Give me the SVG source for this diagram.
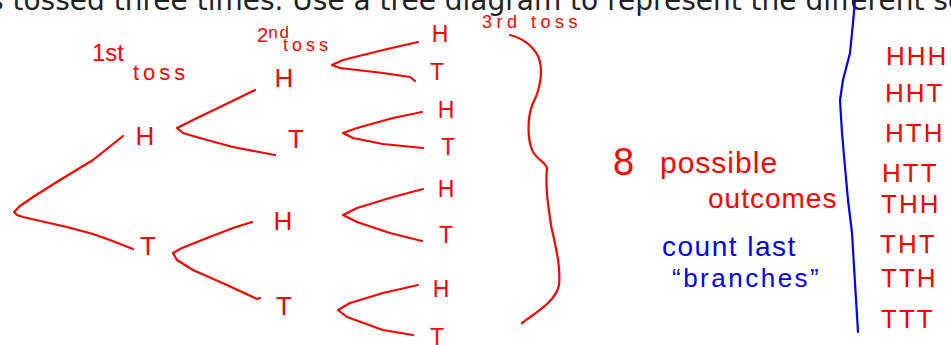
<svg xmlns="http://www.w3.org/2000/svg" width="951" height="345" viewBox="0 0 951 345">
<style>
.hdr{font-family:"DejaVu Sans",Verdana,sans-serif;font-size:28px;fill:#222}
.r{font-family:"Liberation Sans",Arial,sans-serif;fill:#f00}
.b{font-family:"Liberation Sans",Arial,sans-serif;fill:#00f}
.n1{font-size:26px;text-anchor:middle}
.n3{font-size:23px;text-anchor:middle}
.row{font-family:"Liberation Sans",Arial,sans-serif;fill:#f00;font-size:26px;letter-spacing:2px}
.ln{fill:none;stroke:#f00;stroke-width:2.2;stroke-linecap:round;stroke-linejoin:round}
.bl{fill:none;stroke:#00f;stroke-width:2.2;stroke-linecap:round;stroke-linejoin:round}
</style>
<rect width="951" height="345" fill="#fff"/>
<text class="hdr" x="-11" y="10">s tossed three times. Use a tree diagram to represent the different se</text>

<g id="labels">
<text class="r" x="92" y="61" font-size="24">1st</text>
<text class="r" x="133" y="80" font-size="22" letter-spacing="4">toss</text>
<text class="r" x="257" y="42" font-size="20">2<tspan font-size="17" dy="-4" letter-spacing="2">nd</tspan></text>
<text class="r" x="283" y="51" font-size="18" letter-spacing="4">toss</text>
<text class="r" x="482" y="28" font-size="18" letter-spacing="4.5">3rd toss</text>
</g>

<g id="connectors">
<path class="ln" d="M123,136 L93,160 L60,180 L33,197 L20,206 L14,212 L17,215 L23,217 L67,227 L93,234 L110,240 L133,249"/>
<path class="ln" d="M255,90 L220,107 L193,120 L177,128 L183,133 L200,138 L233,147 L275,155"/>
<path class="ln" d="M252,222 L233,228 L207,238 L182,248 L173,253 L177,260 L193,270 L227,285 L257,299 L260,298"/>
<path class="ln" d="M418,42 L383,50 L343,60 L332,65 L340,68 L383,73 L410,77 L415,81"/>
<path class="ln" d="M422,112 L393,118 L357,128 L343,133 L353,138 L383,144 L423,148"/>
<path class="ln" d="M423,189 L393,197 L357,208 L343,215 L357,222 L390,233 L422,241"/>
<path class="ln" d="M418,285 L383,293 L350,303 L338,310 L347,317 L383,330 L413,335"/>
</g>

<g id="n1H"><text class="r n1" x="145" y="145">H</text></g>
<g id="n1T"><text class="r n1" x="148" y="255">T</text></g>
<g id="n2HH"><text class="r n1" x="284" y="87">H</text></g>
<g id="n2HT"><text class="r n1" x="296" y="148">T</text></g>
<g id="n2TH"><text class="r n1" x="283" y="230">H</text></g>
<g id="n2TT"><text class="r n1" x="284" y="315">T</text></g>
<g id="n3HHH"><text class="r n3" x="440" y="42">H</text></g>
<g id="n3HHT"><text class="r n3" x="437" y="80">T</text></g>
<g id="n3HTH"><text class="r n3" x="446" y="118">H</text></g>
<g id="n3HTT"><text class="r n3" x="448" y="155">T</text></g>
<g id="n3THH"><text class="r n3" x="446" y="197">H</text></g>
<g id="n3THT"><text class="r n3" x="446" y="243">T</text></g>
<g id="n3TTH"><text class="r n3" x="441" y="297">H</text></g>
<g id="n3TTT"><text class="r n3" x="437" y="345">T</text></g>

<g id="brace">
<path class="ln" d="M510,35 C522,38 532,45 538,56 C544,70 540,90 533,103 C527,117 527,140 533,152 C538,160 546,163 547,168 C545,185 548,205 551,225 C555,245 561,265 559,285 C556,300 540,310 522,323"/>
</g>

<g id="summary">
<text class="r" x="613" y="175" font-size="38">8</text>
<text class="r" x="660" y="173" font-size="30" letter-spacing="1">possible</text>
<text class="r" x="708" y="208" font-size="28" letter-spacing="1">outcomes</text>
<text class="b" x="662" y="256" font-size="28" letter-spacing="1.5">count last</text>
<text class="b" x="672" y="287" font-size="26" letter-spacing="2.5">“branches”</text>
</g>

<g id="divider">
<path class="bl" d="M855,0 L853,23 L850,53 L843,80 L840,100 L842,133 L845,167 L848,200 L852,233 L855,283 L858,332"/>
</g>

<g id="outcomes">
<text class="row" x="886" y="65">HHH</text>
<text class="row" x="885" y="102">HHT</text>
<text class="row" x="885" y="142">HTH</text>
<text class="row" x="882" y="182">HTT</text>
<text class="row" x="881" y="213">THH</text>
<text class="row" x="880" y="253">THT</text>
<text class="row" x="881" y="287">TTH</text>
<text class="row" x="881" y="328">TTT</text>
</g>
</svg>
